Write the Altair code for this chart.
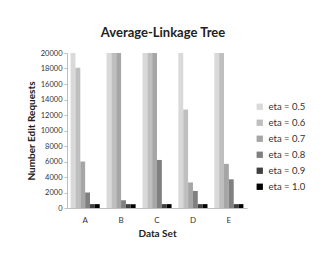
import altair as alt
import pandas as pd

datasets = ["A", "B", "C", "D", "E"]
series = ["eta = 0.5", "eta = 0.6", "eta = 0.7", "eta = 0.8", "eta = 0.9", "eta = 1.0"]
colors = ["#d9d9d9", "#bfbfbf", "#a6a6a6", "#808080", "#404040", "#000000"]
values = {
    "A": [20000, 18100, 6000, 2000, 500, 500],
    "B": [20000, 20000, 20000, 1000, 500, 500],
    "C": [20000, 20000, 20000, 6200, 500, 500],
    "D": [20000, 12700, 3300, 2200, 500, 500],
    "E": [20000, 20000, 5700, 3700, 500, 500],
}

rows = []
for d in datasets:
    for s, v in zip(series, values[d]):
        rows.append({"Data Set": d, "series": s, "value": v})
df = pd.DataFrame(rows)

font = "Lato"

chart = alt.Chart(df).mark_bar().encode(
    x=alt.X("Data Set:N", sort=datasets,
            scale=alt.Scale(paddingInner=0.19, paddingOuter=0.1),
            axis=alt.Axis(title="Data Set", labelAngle=0, ticks=False, labelPadding=8,
                          labelFontSize=8, titleFontSize=10, titleFontWeight="bold",
                          titlePadding=4, domainColor="#bfbfbf", labelColor="#333333",
                          titleColor="#222222", labelFont=font, titleFont=font)),
    xOffset=alt.XOffset("series:N", sort=series, scale=alt.Scale(paddingInner=0, paddingOuter=0)),
    y=alt.Y("value:Q", scale=alt.Scale(domain=[0, 20000]),
            axis=alt.Axis(title="Number Edit Requests", values=list(range(0, 20001, 2000)),
                          format="d", grid=False, tickSize=3, labelFontSize=7.5, titleFontSize=10,
                          titleFontWeight="bold", titlePadding=4, domainColor="#bfbfbf",
                          tickColor="#bfbfbf", labelColor="#333333", titleColor="#222222",
                          labelFont=font, titleFont=font)),
    color=alt.Color("series:N", sort=series,
                    scale=alt.Scale(domain=series, range=colors),
                    legend=alt.Legend(title=None, orient="none", legendX=188, legendY=49,
                                      symbolType="square", symbolSize=40, symbolStrokeWidth=0,
                                      labelFontSize=9.5, labelFont=font, labelColor="#333333",
                                      rowPadding=5)),
).properties(
    width=180,
    height=155,
    title=alt.TitleParams("Average-Linkage Tree", fontSize=13, fontWeight="bold",
                          font=font, color="#222222", offset=9, dx=6),
    autosize=alt.AutoSizeParams(type="none"),
    padding={"left": 59, "top": 45, "right": 70, "bottom": 55},
).configure_view(stroke=None)

chart.save("out.html", embed_options={"renderer": "svg", "actions": False})
